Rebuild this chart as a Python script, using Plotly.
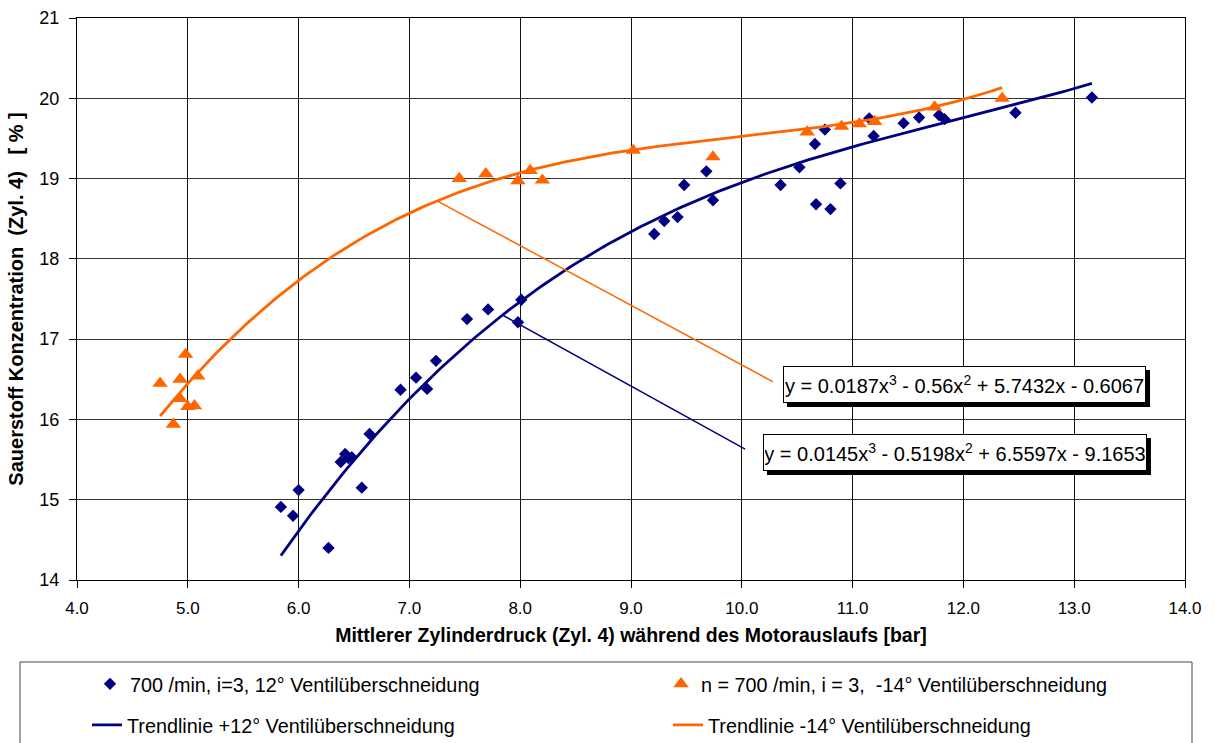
import numpy as np
import plotly.graph_objects as go

# ---- data ----
blue_x = [5.84, 5.95, 6.00, 6.27, 6.38, 6.42, 6.45, 6.48, 6.57, 6.64, 6.92, 7.06, 7.16, 7.24,
          7.52, 7.71, 7.98, 8.01, 9.21, 9.30, 9.42, 9.48, 9.68, 9.74, 10.35, 10.52, 10.66,
          10.67, 10.75, 10.80, 10.89, 11.15, 11.19, 11.46, 11.60, 11.78, 11.83, 12.47, 13.16]
blue_y = [14.91, 14.80, 15.12, 14.40, 15.47, 15.57, 15.52, 15.53, 15.15, 15.82, 16.37, 16.52,
          16.38, 16.73, 17.25, 17.37, 17.21, 17.49, 18.31, 18.47, 18.52, 18.92, 19.09, 18.73,
          18.92, 19.14, 19.43, 18.68, 19.61, 18.62, 18.94, 19.75, 19.53, 19.69, 19.76, 19.79,
          19.74, 19.82, 20.01]

orange_x = [4.75, 4.87, 4.93, 4.93, 4.98, 5.00, 5.06, 5.09, 7.45, 7.69, 7.98, 8.09, 8.20,
            9.02, 9.74, 10.59, 10.90, 11.06, 11.20, 11.74, 12.35]
orange_y = [16.45, 15.94, 16.50, 16.26, 16.81, 16.16, 16.17, 16.54, 19.00, 19.06, 18.97, 19.10,
            18.98, 19.35, 19.27, 19.58, 19.65, 19.68, 19.71, 19.89, 20.00]

# trendline coefficients shown on the chart (x^3, x^2, x, 1)
blue_coef = [0.0145, -0.5198, 6.5597, -9.1653]
orange_coef = [0.0187, -0.56, 5.7432, -0.6067]

blue_eq = "y = 0.0145x<sup>3</sup> - 0.5198x<sup>2</sup> + 6.5597x - 9.1653"
orange_eq = "y = 0.0187x<sup>3</sup> - 0.56x<sup>2</sup> + 5.7432x - 0.6067"

series_names = ["700 /min, i=3, 12° Ventilüberschneidung",
                "n = 700 /min, i = 3,  -14° Ventilüberschneidung",
                "Trendlinie +12° Ventilüberschneidung",
                "Trendlinie -14° Ventilüberschneidung"]

x_ticks = [4, 5, 6, 7, 8, 9, 10, 11, 12, 13, 14]
x_tick_labels = ["4.0", "5.0", "6.0", "7.0", "8.0", "9.0", "10.0", "11.0", "12.0", "13.0", "14.0"]
y_ticks = [14, 15, 16, 17, 18, 19, 20, 21]

x_title = "Mittlerer Zylinderdruck (Zyl. 4) während des Motorauslaufs [bar]"
y_title = "Sauerstoff Konzentration\u00a0\u00a0(Zyl. 4)\u00a0\u00a0\u00a0[ % ]"

BLUE = "#000080"
ORANGE = "#FF6600"
FONT = "Arial, Liberation Sans, sans-serif"
W, H = 1215, 743

bx = np.linspace(min(blue_x), max(blue_x), 200)
ox = np.linspace(min(orange_x), max(orange_x), 200)
by = np.polyval(blue_coef, bx)
oy = np.polyval(orange_coef, ox)

fig = go.Figure()
fig.add_trace(go.Scatter(x=blue_x, y=blue_y, mode="markers",
                         marker=dict(symbol="diamond", size=9.5, color=BLUE),
                         name=series_names[0], legend="legend", showlegend=True))
fig.add_trace(go.Scatter(x=orange_x, y=orange_y, mode="markers",
                         marker=dict(symbol="triangle-up", size=13.5, color=ORANGE),
                         name=series_names[1], legend="legend2", showlegend=True))
fig.add_trace(go.Scatter(x=bx, y=by, mode="lines", line=dict(color=BLUE, width=2.8),
                         name=series_names[2], legend="legend3", showlegend=True))
fig.add_trace(go.Scatter(x=ox, y=oy, mode="lines", line=dict(color=ORANGE, width=2.8),
                         name=series_names[3], legend="legend4", showlegend=True))

# leader lines from trendlines to equation labels
fig.add_shape(type="line", x0=7.25, y0=np.polyval(orange_coef, 7.25), x1=10.28, y1=16.47,
              line=dict(color=ORANGE, width=1.5))
fig.add_shape(type="line", x0=7.84, y0=np.polyval(blue_coef, 7.84), x1=10.03, y1=15.63,
              line=dict(color=BLUE, width=1.5))

# equation labels (box + drop shadow)
for txt, xx, yy, bw in [(orange_eq, 10.372, 16.665, 363), (blue_eq, 10.191, 15.818, 384)]:
    fig.add_shape(type="rect", xref="x", yref="y", xsizemode="pixel", ysizemode="pixel",
                  xanchor=xx, yanchor=yy, x0=4, x1=bw + 4, y0=-4, y1=-(37 + 4),
                  fillcolor="black", line=dict(width=0), layer="above")
    fig.add_annotation(x=xx, y=yy, xref="x", yref="y", text=txt, showarrow=False,
                       xanchor="left", yanchor="top", width=bw - 4, height=33, align="center",
                       valign="middle",
                       font=dict(family=FONT, size=20, color="black"),
                       bgcolor="white", bordercolor="black", borderwidth=1, borderpad=1)

# legend frame
fig.add_shape(type="rect", xref="paper", yref="paper",
              x0=(20 - 77) / 1108, x1=(1192 - 77) / 1108,
              y0=(580 - 662) / 562, y1=(580 - 770) / 562,
              line=dict(color="#444444", width=1), fillcolor="rgba(0,0,0,0)")


def leg(px, py):
    return dict(xref="container", yref="container", x=px / W, y=1 - py / H,
                xanchor="left", yanchor="middle", orientation="h",
                bgcolor="rgba(0,0,0,0)", borderwidth=0,
                font=dict(family=FONT, size=19.8, color="black"))


fig.update_layout(
    width=W, height=H,
    showlegend=True,
    margin=dict(l=77, r=30, t=18, b=163, autoexpand=False),
    paper_bgcolor="white", plot_bgcolor="white",
    font=dict(family=FONT, size=17, color="black"),
    legend=leg(90, 684),
    legend2=leg(661, 684),
    legend3=leg(87, 725),
    legend4=leg(668, 725),
    xaxis=dict(range=[4, 14], tickvals=x_ticks, ticktext=x_tick_labels,
               showgrid=True, gridcolor="#111111", gridwidth=1,
               showline=True, linecolor="black", linewidth=1, mirror=True,
               ticks="outside", ticklen=7, tickcolor="black", ticklabelstandoff=6,
               tickfont=dict(family=FONT, size=17),
               zeroline=False, automargin=False,
               title=dict(text="<b>" + x_title + "</b>",
                          font=dict(family=FONT, size=19.5), standoff=10)),
    yaxis=dict(range=[14, 21], tickvals=y_ticks,
               showgrid=True, gridcolor="#333333", gridwidth=1,
               showline=True, linecolor="black", linewidth=1, mirror=True,
               ticks="outside", ticklen=7, tickcolor="black", ticklabelstandoff=6,
               tickfont=dict(family=FONT, size=18),
               zeroline=False, automargin=False,
               title=dict(text="<b>" + y_title + "</b>",
                          font=dict(family=FONT, size=20), standoff=10)),
)

fig.write_html("out.html")
